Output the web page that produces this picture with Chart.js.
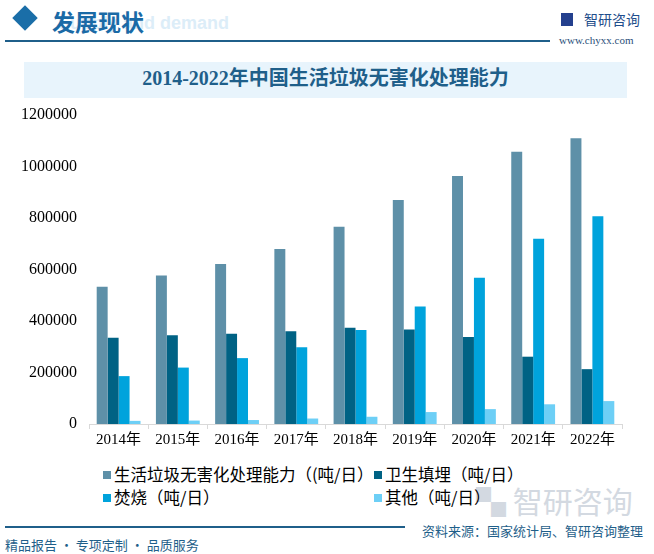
<!DOCTYPE html>
<html>
<head>
<meta charset="utf-8">
<script src="https://cdn.jsdelivr.net/npm/chart.js@4"></script>
<style>
  html, body { margin: 0; padding: 0; background: #ffffff; }
  body { width: 654px; height: 554px; position: relative; overflow: hidden;
         font-family: "Noto Sans CJK SC", "Noto Sans", sans-serif; }
  .abs { position: absolute; }
  #chartBox { position: absolute; left: 0; top: 95px; width: 640px; height: 360px; }
  .lg-item { position: absolute; font-size: 16.5px; color: #000; white-space: nowrap; line-height: 20px; }
  .lg-item span.sw { display: inline-block; width: 8px; height: 8px; margin-right: 3px; vertical-align: 2px; }
</style>
</head>
<body>
<!-- header -->
<div class="abs" style="left:58px;top:13px;font:bold 18px Arial, sans-serif;color:#dcedf8;">Supply and demand</div>
<div class="abs" style="left:16px;top:9px;width:18px;height:18px;background:#1a6ea8;transform:rotate(45deg);"></div>
<div class="abs" style="left:52px;top:4px;font-size:23px;font-weight:bold;color:#1a6aa6;">发展现状</div>
<div class="abs" style="left:5px;top:40px;width:545px;height:2px;background:#1f5f8a;"></div>
<div class="abs" style="left:561px;top:13px;width:12px;height:13px;background:#24408e;"></div>
<div class="abs" style="left:584px;top:9px;font-size:14px;color:#1f4e8c;">智研咨询</div>
<div class="abs" style="left:559px;top:34px;font:11px 'Liberation Serif', serif;color:#2b4f7a;">www.chyxx.com</div>

<!-- title band -->
<div class="abs" style="left:24px;top:62px;width:603px;height:36px;background:#e8f4fc;"></div>
<div class="abs" style="left:24px;top:62px;width:603px;height:36px;line-height:36px;text-align:center;font:bold 20px 'Liberation Serif','Noto Sans CJK SC',serif;color:#1f5f8a;">2014-2022年中国生活垃圾无害化处理能力</div>

<!-- watermark -->
<div class="abs" style="left:476px;top:478px;font-size:30px;color:#d3d9e1;">▚ 智研咨询</div>

<div id="chartBox"><canvas id="c"></canvas></div>
<div id="legend"></div>

<!-- footer -->
<div class="abs" style="left:5px;top:526px;width:400px;height:2px;background:#1f5f8a;"></div>
<div class="abs" style="left:422px;top:521px;font-size:13px;color:#1f5f8a;">资料来源：国家统计局、智研咨询整理</div>
<div class="abs" style="left:5px;top:535px;font-size:13px;color:#1f5f8a;">精品报告 · 专项定制 · 品质服务</div>

<script>
const years = ['2014年','2015年','2016年','2017年','2018年','2019年','2020年','2021年','2022年'];
const totalCap = [533455, 576894, 621351, 679889, 766195, 869875, 963460, 1057064, 1109435];
const landfill = [335316, 344472, 350103, 360524, 373498, 367013, 337848, 261393, 213000];
const incineration = [185957, 219080, 255850, 298062, 364595, 456499, 567804, 719136, 807000];
const others = [12182, 13342, 15398, 21303, 28102, 46363, 57808, 76535, 89000];
const yTicks = [0, 200000, 400000, 600000, 800000, 1000000, 1200000];

const seriesNames = ['生活垃圾无害化处理能力（(吨/日）', '卫生填埋（吨/日）', '焚烧（吨/日）', '其他（吨/日）'];
const seriesColors = ['#5e90a8', '#006284', '#00a3dc', '#6dcff6'];
const seriesData = [totalCap, landfill, incineration, others];

const tickFont = { family: "'Liberation Serif', 'Noto Sans CJK SC', serif", size: 15 };

const chart = new Chart(document.getElementById('c'), {
  type: 'bar',
  data: {
    labels: years,
    datasets: seriesData.map((d, i) => ({
      label: seriesNames[i],
      data: d,
      backgroundColor: seriesColors[i],
      borderWidth: 0,
      categoryPercentage: 0.74,
      barPercentage: 1
    }))
  },
  options: {
    responsive: true,
    maintainAspectRatio: false,
    animation: false,
    layout: { padding: { top: 20, right: 18, left: 0, bottom: 0 } },
    plugins: { legend: { display: false }, tooltip: { enabled: false } },
    scales: {
      x: {
        grid: { display: true, drawOnChartArea: false, color: '#d9d9d9', tickLength: 5, offset: true },
        border: { color: '#d9d9d9' },
        ticks: { color: '#000', font: tickFont, padding: 2 },
        afterFit: s => { s.height = 31; }
      },
      y: {
        min: 0, max: 1200000,
        afterBuildTicks: s => { s.ticks = yTicks.map(v => ({ value: v })); },
        grid: { display: false },
        border: { display: false },
        ticks: { color: '#000', font: { family: tickFont.family, size: 16 }, padding: 4, callback: v => String(v) },
        afterFit: s => { s.width = 89; }
      }
    }
  }
});

// legend in two columns, taken from the chart's datasets
const legendPos = [[103, 464], [374, 464], [103, 487], [374, 487]];
const lg = document.getElementById('legend');
chart.data.datasets.forEach((ds, i) => {
  const el = document.createElement('div');
  el.className = 'lg-item';
  el.style.left = legendPos[i][0] + 'px';
  el.style.top = legendPos[i][1] + 'px';
  el.innerHTML = `<span class="sw" style="background:${ds.backgroundColor}"></span>${ds.label}`;
  lg.appendChild(el);
});
</script>
</body>
</html>
